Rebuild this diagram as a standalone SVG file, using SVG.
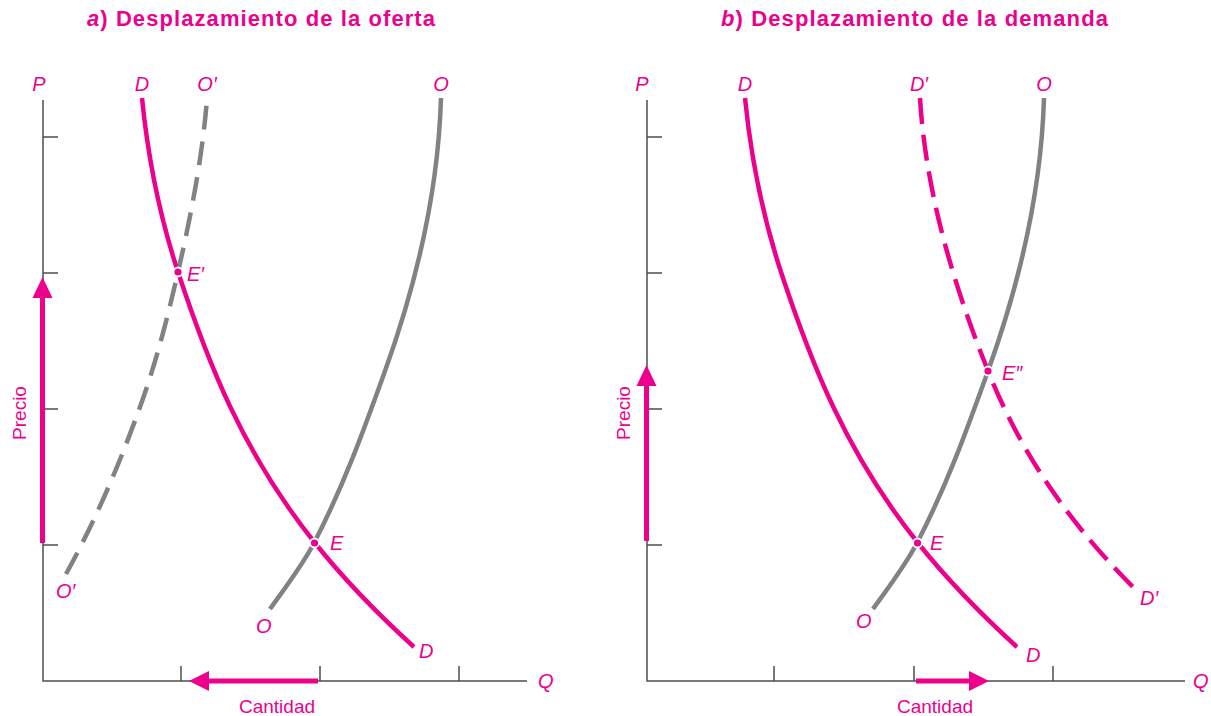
<svg xmlns="http://www.w3.org/2000/svg" width="1211" height="716" viewBox="0 0 1211 716">
<style>
.title{font-family:"Liberation Sans",Arial,sans-serif;font-weight:bold;font-size:22px;fill:#EC008C}
.lbl{font-family:"Liberation Sans",Arial,sans-serif;font-style:italic;font-size:20px;fill:#EC008C}
.ax{font-family:"Liberation Sans",Arial,sans-serif;font-size:19px;fill:#EC008C}
.axis{fill:none;stroke:#4D4D4F;stroke-width:1.5}
.sup{fill:none;stroke:#808285;stroke-width:4.5}
.dem{fill:none;stroke:#EC008C;stroke-width:4.5}
.dash1{stroke-dasharray:24 12}
.dash2{stroke-dasharray:26 11}
.dot{fill:#EC008C;stroke:#fff;stroke-width:1.8}
.arr{fill:none;stroke:#EC008C;stroke-width:5}
.head{fill:#EC008C}
</style>
<defs>
<path id="dcurve" d="M142,98 C147.8,156 158.9,214 178,272 C207.8,362.3 242.7,452.7 315,543 C342.7,577.7 375.9,612.3 414,647"/>
<path id="ocurve" d="M1044,98 C1041.3,189 1020.8,280 988,371 C967.4,428.3 946.8,485.7 917,543 C905.6,565 888.8,587 873,609"/>
</defs>

<!-- Titles -->
<text class="title" x="87" y="26" textLength="348" lengthAdjust="spacing"><tspan font-style="italic">a</tspan>) Desplazamiento de la oferta</text>
<text class="title" x="721" y="26" textLength="387" lengthAdjust="spacing"><tspan font-style="italic">b</tspan>) Desplazamiento de la demanda</text>

<!-- Panel a -->
<g id="panel-a">
  <g id="axes-a">
    <path class="axis" d="M43,100 V681 H527"/>
    <path class="axis" d="M43,137 H58 M43,273 H58 M43,409 H58 M43,545 H58 M181,666 V681 M320,666 V681 M459,666 V681"/>
    <text class="lbl" x="39" y="91" text-anchor="middle">P</text>
    <text class="lbl" x="538" y="688">Q</text>
    <text class="ax" transform="translate(26,413) rotate(-90)" text-anchor="middle">Precio</text>
    <text class="ax" x="277" y="713" text-anchor="middle">Cantidad</text>
  </g>
  <g id="curves-a">
    <use id="O-a" href="#ocurve" class="sup" transform="translate(-603,0)"/>
    <path id="O2-a" class="sup dash1" d="M66,574 C96.6,518.3 120,462.7 140,407 C156.2,362 167.7,317 178,272 C191.3,214.3 202.4,156.3 207,99"/>
    <use id="D-a" href="#dcurve" class="dem"/>
  </g>
  <g id="arrows-a">
    <path class="arr" d="M42.5,543 V296"/>
    <polygon class="head" points="42.5,277 32.5,298 52.5,298"/>
    <path class="arr" d="M318,681 H206"/>
    <polygon class="head" points="189,681 209,671 209,691"/>
  </g>
  <g id="points-a">
    <circle class="dot" cx="178" cy="272" r="4.5"/>
    <circle class="dot" cx="314.5" cy="543" r="4.5"/>
  </g>
  <g id="labels-a">
    <text class="lbl" x="142" y="91" text-anchor="middle">D</text>
    <text class="lbl" x="207" y="91" text-anchor="middle">O′</text>
    <text class="lbl" x="441" y="91" text-anchor="middle">O</text>
    <text class="lbl" x="187" y="281">E′</text>
    <text class="lbl" x="330" y="550">E</text>
    <text class="lbl" x="56" y="598">O′</text>
    <text class="lbl" x="256" y="633">O</text>
    <text class="lbl" x="419" y="658">D</text>
  </g>
</g>

<!-- Panel b -->
<g id="panel-b">
  <g id="axes-b">
    <path class="axis" d="M647,100 V681 H1185"/>
    <path class="axis" d="M647,137 H662 M647,273 H662 M647,409 H662 M647,545 H662 M774,666 V681 M914,666 V681 M1053,666 V681"/>
    <text class="lbl" x="642" y="91" text-anchor="middle">P</text>
    <text class="lbl" x="1193" y="688">Q</text>
    <text class="ax" transform="translate(630,413) rotate(-90)" text-anchor="middle">Precio</text>
    <text class="ax" x="935" y="713" text-anchor="middle">Cantidad</text>
  </g>
  <g id="curves-b">
    <use id="O-b" href="#ocurve" class="sup"/>
    <use id="D-b" href="#dcurve" class="dem" transform="translate(603,0)"/>
    <path id="D2-b" class="dem dash2" d="M920,98 C925.5,189 951.6,280 988,371 C1016.8,443 1061,515 1133,587"/>
  </g>
  <g id="arrows-b">
    <path class="arr" d="M646.5,541 V384"/>
    <polygon class="head" points="646.5,365 636.5,386 656.5,386"/>
    <path class="arr" d="M916,681 H972"/>
    <polygon class="head" points="989,681 969,671 969,691"/>
  </g>
  <g id="points-b">
    <circle class="dot" cx="988" cy="371" r="4.5"/>
    <circle class="dot" cx="917.5" cy="543" r="4.5"/>
  </g>
  <g id="labels-b">
    <text class="lbl" x="745" y="91" text-anchor="middle">D</text>
    <text class="lbl" x="919" y="91" text-anchor="middle">D′</text>
    <text class="lbl" x="1044" y="91" text-anchor="middle">O</text>
    <text class="lbl" x="1002" y="380">E″</text>
    <text class="lbl" x="930" y="550">E</text>
    <text class="lbl" x="856" y="628">O</text>
    <text class="lbl" x="1026" y="662">D</text>
    <text class="lbl" x="1140" y="605">D′</text>
  </g>
</g>
</svg>
